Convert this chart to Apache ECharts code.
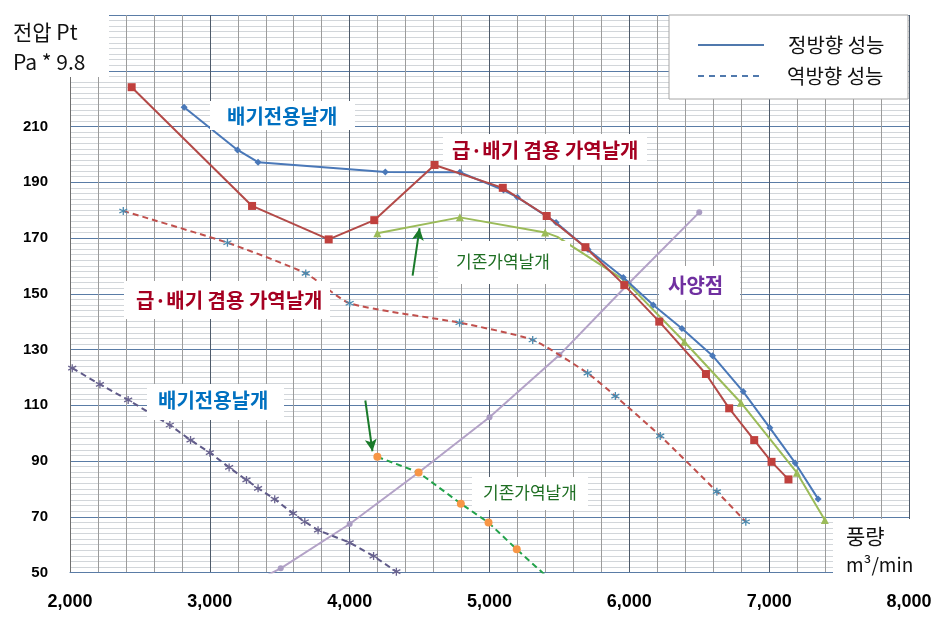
<!DOCTYPE html>
<html><head><meta charset="utf-8">
<script src="https://cdn.jsdelivr.net/npm/echarts@6/dist/echarts.min.js"></script>
<style>html,body{margin:0;padding:0;background:#fff}#c{width:945px;height:621px}</style>
</head><body><div id="c"></div>
<script>
// ---- data (x = 풍량 m3/min, y = 전압 Pt) ----
const fwdExhaustX = [2816, 3198, 3345, 4255, 4788, 5100, 5200, 5476, 5705, 5957, 6171, 6376, 6595, 6814, 7005, 7186, 7350];
const fwdExhaustY = [216.9, 201.6, 197.2, 193.7, 193.6, 187.2, 184.6, 175.6, 165.9, 155.8, 146, 137.5, 127.8, 114.9, 101.9, 89.3, 76.4];

const fwdDualX = [2441, 3302, 3850, 4176, 4607, 5095, 5409, 5686, 5964, 6214, 6548, 6714, 6893, 7017, 7138];
const fwdDualY = [224.1, 181.5, 169.5, 176.4, 196.2, 188, 177.9, 166.7, 153.1, 140, 121.2, 108.9, 97.5, 89.7, 83.4];

const fwdOldX = [4198, 4788, 5398, 5486, 5964, 6393, 6798, 7198, 7398];
const fwdOldY = [171.7, 177.4, 172, 170.4, 154.9, 132.8, 110.9, 85.8, 68.8];
const fwdOldNoMark = [5486];

const revDualX = [2381, 3126, 3686, 4000, 4786, 5309, 5702, 5900, 6221, 6626, 6833];
const revDualY = [179.7, 168.3, 157.3, 146.6, 139.6, 133.4, 121.5, 113.3, 99, 79, 68.2];

const revExhaustX = [2016, 2214, 2416, 2714, 2862, 3000, 3138, 3262, 3345, 3464, 3595, 3679, 3774, 4000, 4171, 4334];
const revExhaustY = [123.3, 117.5, 111.9, 102.9, 97.5, 93, 87.7, 83.2, 80.2, 76.3, 71.2, 68.2, 65.2, 60.7, 55.9, 50.3];

const revOldX = [4198, 4493, 4795, 4993, 5195, 5400];
const revOldY = [91.5, 85.9, 74.7, 67.9, 58.3, 49];

const systemX = [3000, 3507, 4000, 4493, 5000, 5500, 5995, 6500];
const systemY = [38.5, 51.5, 67.4, 85.9, 105.7, 128, 153.7, 179.2];

const xTicks = [2000, 3000, 4000, 5000, 6000, 7000, 8000];
const yTicks = [50, 70, 90, 110, 130, 150, 170, 190, 210];

const zip = (xs, ys) => xs.map((x, i) => [x, ys[i]]);
const KR = '"Noto Sans CJK KR", "Noto Sans", sans-serif';
const asterisk = 'path://M0,-5L0,5M-4.33,-2.5L4.33,2.5M-4.33,2.5L4.33,-2.5M0,-5';

const chart = echarts.init(document.getElementById('c'));

function txt(text, x, y, fill, size, bold, align) {
  return { type: 'text', x: x, y: y, z: 110,
    style: { text: text, fill: fill, font: (bold ? 'bold ' : '') + size + 'px ' + KR,
      align: align || 'left', textAlign: align || 'left', verticalAlign: 'middle', textVerticalAlign: 'middle' } };
}
function box(x, y, w, h, stroke) {
  return { type: 'rect', z: 105, shape: { x: x, y: y, width: w, height: h },
    style: { fill: '#ffffff', stroke: stroke || null, lineWidth: stroke ? 1 : 0 } };
}

const option = {
  animation: false,
  backgroundColor: '#ffffff',
  grid: { left: 70, top: 15, width: 839, height: 557.5, containLabel: false },
  xAxis: {
    type: 'value', min: 2000, max: 8000, interval: 1000,
    axisLine: { show: true, lineStyle: { color: '#5a7ca6', width: 1 } },
    axisTick: { show: false },
    axisLabel: { margin: 21, fontSize: 18, fontWeight: 'bold', color: '#000', fontFamily: 'Liberation Sans, Arial, sans-serif',
      formatter: v => xTicks.includes(v) ? v.toLocaleString('en-US') : '' },
    splitLine: { show: true, lineStyle: { color: '#4d5a6a', width: 1 } },
    minorTick: { show: false, splitNumber: 5 },
    minorSplitLine: { show: true, lineStyle: { color: '#9c9c9c', width: 1 } }
  },
  yAxis: {
    type: 'value', min: 50, max: 250, interval: 20,
    axisLine: { show: true, lineStyle: { color: '#6f6f6f', width: 1 } },
    axisTick: { show: false },
    axisLabel: { margin: 22, fontSize: 15, fontWeight: 'bold', color: '#000', fontFamily: 'Liberation Sans, Arial, sans-serif',
      formatter: v => yTicks.includes(v) ? String(v) : '' },
    splitLine: { show: true, lineStyle: { color: '#5a7ca6', width: 1 } },
    minorTick: { show: false, splitNumber: 10 },
    minorSplitLine: { show: true, lineStyle: { color: '#d2d6da', width: 1 } }
  },
  series: [
    { name: '배기전용날개 정방향', type: 'line', data: zip(fwdExhaustX, fwdExhaustY), z: 6,
      symbol: 'diamond', symbolSize: 7, itemStyle: { color: '#4a78b8' },
      lineStyle: { color: '#4a78b8', width: 2 } },
    { name: '급·배기 겸용 정방향', type: 'line', data: zip(fwdDualX, fwdDualY), z: 7,
      symbol: 'rect', symbolSize: 8, itemStyle: { color: '#c0403d' },
      lineStyle: { color: '#b34a48', width: 2 } },
    { name: '기존가역날개 정방향', type: 'line', z: 5,
      data: zip(fwdOldX, fwdOldY).map(p => fwdOldNoMark.includes(p[0]) ? { value: p, symbol: 'none' } : p),
      symbol: 'triangle', symbolSize: 8, itemStyle: { color: '#9bbb59' },
      lineStyle: { color: '#9bbb59', width: 2 },
      markLine: { silent: true, symbol: ['none', 'arrow'], symbolSize: [9, 12], label: { show: false },
        lineStyle: { color: '#1a7a2a', width: 2, type: 'solid' },
        data: [
          [{ coord: [4450, 156.5] }, { coord: [4500, 173.5] }],
          [{ coord: [4112, 111.7] }, { coord: [4163, 93.5] }]
        ] } },
    { name: '급·배기 겸용 역방향', type: 'line', data: zip(revDualX, revDualY), smooth: 0.2, z: 4,
      symbol: asterisk, symbolSize: 8, itemStyle: { color: 'rgba(0,0,0,0)', borderColor: '#4b8bb0', borderWidth: 1.3 },
      lineStyle: { color: '#c0504d', width: 2, type: [6, 4] } },
    { name: '배기전용날개 역방향', type: 'line', data: zip(revExhaustX, revExhaustY), z: 4,
      symbol: asterisk, symbolSize: 8, itemStyle: { color: 'rgba(0,0,0,0)', borderColor: '#6a6490', borderWidth: 1.3 },
      lineStyle: { color: '#5f5a88', width: 2, type: [6, 4] } },
    { name: '기존가역날개 역방향', type: 'line', data: zip(revOldX, revOldY), z: 4,
      symbol: 'circle', symbolSize: 8, itemStyle: { color: '#f79646' },
      lineStyle: { color: '#22a24a', width: 2, type: [6, 4] } },
    { name: '사양점', type: 'line', data: zip(systemX, systemY), z: 3,
      symbol: 'circle', symbolSize: 6, itemStyle: { color: '#a99cc2' },
      lineStyle: { color: '#b3a2c7', width: 2 } }
  ],
  graphic: { elements: [
    box(0, 0, 109, 77),
    txt('전압 Pt', 13, 32, '#111', 21, false),
    txt('Pa * 9.8', 13, 62, '#111', 21, false),
    box(669, 15, 239, 84, '#a6a6a6'),
    { type: 'line', z: 110, shape: { x1: 698, y1: 45, x2: 764, y2: 45 }, style: { stroke: '#5079ad', lineWidth: 2 } },
    { type: 'line', z: 110, shape: { x1: 698, y1: 76, x2: 764, y2: 76 }, style: { stroke: '#5079ad', lineWidth: 2, lineDash: [6, 5] } },
    txt('정방향 성능', 788, 45, '#111', 20, false),
    txt('역방향 성능', 787, 76, '#111', 20, false),
    box(833, 519, 112, 63),
    txt('풍량', 846, 536, '#111', 21, false),
    txt('m³/min', 846, 565, '#111', 19, false),
    box(210, 101, 145, 29),
    txt('배기전용날개', 227, 116, '#0070c0', 20, true),
    box(443, 134, 204, 31),
    txt('급·배기 겸용 가역날개', 452, 150, '#a50021', 20, true),
    box(438, 241, 132, 43),
    txt('기존가역날개', 456, 262, '#1e6e22', 17, false),
    box(659, 266, 81, 34),
    txt('사양점', 668, 285, '#7030a0', 20, true),
    box(124, 281, 206, 38),
    txt('급·배기 겸용 가역날개', 136, 300, '#a50021', 20, true),
    box(147, 384, 137, 36),
    txt('배기전용날개', 158, 400, '#0070c0', 20, true),
    box(472, 477, 116, 33),
    txt('기존가역날개', 483, 493, '#1e6e22', 17, false)
  ] }
};
chart.setOption(option);
</script>
</body></html>
